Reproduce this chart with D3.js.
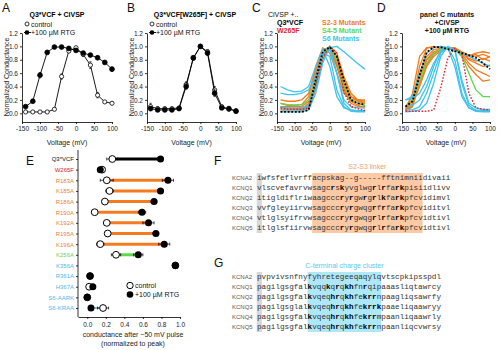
<!DOCTYPE html>
<html><head><meta charset="utf-8">
<script src="https://cdn.jsdelivr.net/npm/d3@7"></script>
<style>
body{margin:0;background:#fff}
svg{font-family:"Liberation Sans",Arial,sans-serif}
.mono{font-family:"Liberation Mono","DejaVu Sans Mono",monospace}
</style>
</head><body><svg id="c" width="500" height="350"></svg>
<script>
// ---------- DATA ----------
const voltTicks = [-150,-100,-50,0,50,100];
const condTicks = [0,0.2,0.4,0.6,0.8,1.0,1.2];
const V = [-140,-120,-100,-80,-60,-40,-20,0,20,40,60,80,100];

// Panel A: Q3*VCF + CiVSP
const aControl = [0.02,0.02,0.02,0.02,0.06,0.55,0.93,0.98,0.88,0.72,0.27,0.17,0.15];
const aRTG     = [0.10,0.18,0.57,0.91,0.99,0.99,0.97,0.94,0.90,0.87,0.83,0.76,0.66];
const aControlErr = [0,0,0,0,0.01,0.04,0.02,0.01,0.03,0.05,0.04,0.02,0.02];
const aRTGErr     = [0.01,0.02,0.04,0.02,0.01,0.01,0.01,0.02,0.02,0.02,0.02,0.02,0.03];
// Panel B: Q3*VCF[W265F] + CiVSP
const bControl = [0.10,0.07,0.07,0.07,0.08,0.43,0.82,1.00,0.92,0.35,0.10,0.06,0.04];
const bRTG     = [0.07,0.05,0.05,0.05,0.07,0.40,0.83,1.00,0.90,0.30,0.08,0.07,0.03];
const bControlErr = [0.05,0.03,0.02,0.02,0.02,0.04,0.02,0,0.03,0.05,0.02,0.02,0.02];
const bRTGErr     = [0.03,0.02,0.02,0.02,0.02,0.04,0.02,0,0.03,0.05,0.02,0.02,0.02];

// Panel C (control, CiVSP) curves
const cQ3 = [0.02,0.02,0.02,0.02,0.05,0.50,0.92,0.99,0.85,0.50,0.20,0.15,0.13];
const cW265F = [0.08,0.06,0.06,0.06,0.08,0.42,0.83,1.00,0.90,0.32,0.10,0.07,0.04];
const cS23 = [
  [0.10,0.08,0.07,0.07,0.10,0.45,0.90,0.98,0.80,0.45,0.20,0.15,0.12],
  [0.05,0.05,0.05,0.06,0.15,0.60,0.95,0.95,0.70,0.35,0.15,0.10,0.10],
  [0.15,0.12,0.12,0.13,0.25,0.70,0.98,0.90,0.60,0.30,0.20,0.20,0.18],
  [0.08,0.07,0.07,0.08,0.12,0.40,0.85,1.00,0.85,0.50,0.25,0.18,0.15],
  [0.20,0.18,0.18,0.20,0.30,0.65,0.95,0.98,0.75,0.40,0.25,0.20,0.20],
  [0.03,0.03,0.03,0.04,0.08,0.35,0.80,1.00,0.90,0.55,0.30,0.20,0.15],
  [0.10,0.10,0.10,0.10,0.18,0.55,0.92,0.97,0.72,0.38,0.18,0.12,0.08]
];
const cS45 = [[0.15,0.13,0.12,0.13,0.20,0.50,0.88,1.00,0.80,0.40,0.20,0.15,0.12]];
const cS6 = [
  [0.40,0.35,0.32,0.33,0.40,0.70,0.95,0.98,1.00,0.92,0.83,0.74,0.66],
  [0.30,0.28,0.28,0.30,0.35,0.55,0.85,0.95,0.60,0.20,0.10,0.08,0.08],
  [0.05,0.05,0.05,0.05,0.10,0.40,0.90,0.85,0.35,0.10,0.03,0.02,0.02],
  [0.02,0.02,0.02,0.02,0.05,0.30,0.75,1.00,0.60,0.15,0.05,0.03,0.03],
  [0.10,0.08,0.08,0.08,0.12,0.45,0.95,0.70,0.25,0.08,0.05,0.04,0.04]
];
// Panel D (+100 uM RTG) curves
const dQ3 = [0.10,0.18,0.57,0.91,0.99,0.99,0.96,0.93,0.90,0.87,0.83,0.75,0.66];
const dW265F = [0.03,0.03,0.03,0.03,0.05,0.38,0.82,0.97,0.88,0.30,0.08,0.06,0.05];
const dS23 = [
  [0.05,0.30,0.85,0.98,0.99,0.99,0.98,0.95,0.90,0.85,0.88,0.80,0.85],
  [0.03,0.10,0.50,0.80,0.92,0.96,0.97,0.95,0.90,0.80,0.75,0.70,0.72],
  [0.08,0.20,0.60,0.85,0.95,0.97,0.98,0.96,0.88,0.75,0.65,0.60,0.55],
  [0.05,0.15,0.45,0.72,0.88,0.95,0.98,0.97,0.90,0.82,0.78,0.82,0.78],
  [0.10,0.25,0.55,0.80,0.90,0.95,0.97,0.96,0.85,0.70,0.58,0.48,0.50],
  [0.04,0.12,0.40,0.70,0.85,0.93,0.97,0.98,0.92,0.87,0.85,0.88,0.84],
  [0.06,0.20,0.70,0.97,1.00,0.98,0.97,0.94,0.90,0.86,0.90,0.92,0.90]
];
const dS45 = [[0.10,0.20,0.50,0.75,0.90,0.96,0.98,0.95,0.85,0.60,0.35,0.25,0.25]];
const dS6 = [
  [0.20,0.25,0.60,0.90,0.98,1.00,0.98,0.95,0.90,0.85,0.80,0.75,0.70],
  [0.20,0.22,0.30,0.50,0.75,0.92,0.98,0.95,0.50,0.15,0.08,0.06,0.06],
  [0.05,0.05,0.10,0.30,0.60,0.90,0.98,0.80,0.30,0.08,0.03,0.02,0.02],
  [0.02,0.03,0.05,0.15,0.45,0.85,1.00,0.95,0.45,0.12,0.04,0.03,0.03],
  [0.10,0.12,0.20,0.40,0.70,0.95,0.98,0.70,0.25,0.08,0.05,0.04,0.04]
];

// Panel E
const eLabels = ["Q3*VCF","W265F","R183A","K185A","R186A","R190A","K192A","R195A","K196A","K256A","K356A","R361A","H367A","S6-AARK","S6-KRAA"];
const eGroups = ["q3","w","s23","s23","s23","s23","s23","s23","s23","s45","s6","s6","s6","s6","s6"];
const eControl    = [0.27,0.16,0.21,0.24,0.19,0.08,0.21,0.22,0.14,0.31,0.95,0.03,0.02,0.00,0.17];
const eRTG        = [0.79,0.14,0.87,0.79,0.72,0.59,0.66,0.74,0.83,0.55,0.95,0.03,0.06,0.00,0.04];
const eControlErr = [0.06,0.02,0.07,0.04,0.03,0.03,0.03,0.03,0.04,0.05,0,0.01,0.01,0,0.06];
const eRTGErr     = [0.03,0.02,0.06,0.03,0.03,0.04,0.06,0.03,0.06,0.05,0,0.01,0.01,0,0.02];
const eTicks = [0,0.2,0.4,0.6,0.8,1.0];

// Panels F and G: alignments
const seqNames = ["KCNA2","KCNQ1","KCNQ2","KCNQ3","KCNQ4","KCNQ5"];
const fSeqs = [
  ["iwfsfeflvrff","acpskag--g-----fftnimnii","divaii"],
  ["vlscvefavrvw","sagcrskyvglwgrlrfarkpisi","idlivv"],
  ["itigldiflriw","aagcccryrgwrgrlkfarkpfcv","idimvl"],
  ["vvfgleyiirvw","sagcccryrgwqgrfrfarkpfcv","iditvl"],
  ["vtlglsyifrvw","sagcccryrgwqgrlrfarkpfcv","idtivl"],
  ["itlglsfiirvw","sagcccryrgwqgrlrfarkpfcv","idtivl"]
];
const gSeqs = [
  ["pvpvivsnfny","fyhretegeeqaqylq","vtscpkipsspdl"],
  ["pagilgsgfal","kvqqkqrqkhfnrqip","aaasliqtawrcy"],
  ["pagilgsgfal","kvqeqhrqkhfekrrn","paagliqsawrfy"],
  ["pagilgsglal","kvqeqhrqkhfekrrk","paaeliqaawryy"],
  ["pagilgsgfal","kvqeqhrqkhfekrrm","paanliqaawrly"],
  ["pagilgsgfal","kvqeqhrqkhfekrrn","paanliqcvwrsy"]
];

// ---------- STYLE ----------
const COL = {q3:"#000", w:"#e3262f", s23:"#f47b20", s45:"#5ed84a", s6:"#3ec3ef"};
const LBL = {q3:"#111", w:"#d9262e", s23:"#e8843c", s45:"#6cd45c", s6:"#4bb9e6"};
const svg = d3.select("#c");

function styleAxis(g, fs){
  g.selectAll("path,line").attr("stroke","#000").attr("stroke-width",0.8);
  g.selectAll("text").attr("font-size",fs).attr("fill","#222");
}

function voltPanel(x0, x1){
  const x = d3.scaleLinear().domain([-150,100]).range([x0,x1]);
  const y = d3.scaleLinear().domain([-0.13,1.2]).range([122,33]);
  const g = svg.append("g");
  const ax = g.append("g").attr("transform","translate(0,122)")
    .call(d3.axisBottom(x).tickValues(voltTicks).tickFormat(d=>String(d)).tickSize(2).tickSizeOuter(0).tickPadding(2));
  styleAxis(ax,6.5);
  const ay = g.append("g").attr("transform",`translate(${x0},0)`)
    .call(d3.axisLeft(y).tickValues(condTicks).tickFormat(d3.format(".1f")).tickSize(2).tickSizeOuter(0).tickPadding(2));
  styleAxis(ay,6.5);
  g.append("text").attr("x",(x0+x1)/2).attr("y",145).attr("text-anchor","middle")
    .attr("font-size",7).attr("fill","#222").text("Voltage (mV)");
  g.append("text").attr("transform",`translate(${x0-13},77) rotate(-90)`).attr("text-anchor","middle")
    .attr("font-size",7).attr("fill","#222").text("Normalized Conductance");
  return {x,y,g};
}

function letter(t,x,y){
  svg.append("text").attr("x",x).attr("y",y).attr("font-size",12).attr("fill","#111").text(t);
}

function markerSeries(p, vals, errs, filled){
  const line = d3.line().x((d,i)=>p.x(V[i])).y(d=>p.y(d));
  p.g.append("path").datum(vals).attr("d",line).attr("fill","none").attr("stroke","#000").attr("stroke-width",0.9);
  p.g.selectAll(null).data(vals).enter().append("path")
    .attr("d",(d,i)=>{const xx=p.x(V[i]), e=errs[i]; if(!e) return null;
      const y1=p.y(d+e), y2=p.y(d-e);
      return `M${xx},${y1}V${y2}M${xx-1.2},${y1}H${xx+1.2}M${xx-1.2},${y2}H${xx+1.2}`;})
    .attr("stroke","#000").attr("stroke-width",0.6).attr("fill","none");
  p.g.selectAll(null).data(vals).enter().append("circle")
    .attr("cx",(d,i)=>p.x(V[i])).attr("cy",d=>p.y(d)).attr("r",filled?2.4:2.1)
    .attr("fill",filled?"#000":"#fff").attr("stroke","#000").attr("stroke-width",0.8);
}

function legendAB(x0){
  const g = svg.append("g");
  g.append("circle").attr("cx",x0+5).attr("cy",24).attr("r",2).attr("fill","#fff").attr("stroke","#000").attr("stroke-width",0.8);
  g.append("text").attr("x",x0+9).attr("y",26.5).attr("font-size",7).attr("fill","#111").text("control");
  g.append("line").attr("x1",x0+2).attr("x2",x0+9).attr("y1",32.5).attr("y2",32.5).attr("stroke","#000").attr("stroke-width",0.9);
  g.append("circle").attr("cx",x0+5).attr("cy",32.5).attr("r",2.3).attr("fill","#000");
  g.append("text").attr("x",x0+9).attr("y",35).attr("font-size",7).attr("fill","#111").text("+100 µM RTG");
}

function curves(p, arr, color, width, dash){
  const line = d3.line().x((d,i)=>p.x(V[i])).y(d=>p.y(d));
  p.g.selectAll(null).data(arr).enter().append("path").attr("d",line)
    .attr("fill","none").attr("stroke",color).attr("stroke-width",width)
    .attr("stroke-dasharray",dash||null).attr("stroke-linejoin","round");
}

// ---------- PANEL A ----------
letter("A",2,12);
svg.append("text").attr("x",57).attr("y",17).attr("text-anchor","middle").attr("font-size",7).attr("font-weight","bold").text("Q3*VCF + CiVSP");
const pA = voltPanel(22,112);
legendAB(22);
markerSeries(pA, aControl, aControlErr, false);
markerSeries(pA, aRTG, aRTGErr, true);

// ---------- PANEL B ----------
letter("B",127,12);
svg.append("text").attr("x",195).attr("y",17).attr("text-anchor","middle").attr("font-size",7).attr("font-weight","bold").text("Q3*VCF[W265F] + CiVSP");
const pB = voltPanel(147,236);
legendAB(147);
markerSeries(pB, bControl, bControlErr, false);
markerSeries(pB, bRTG, bRTGErr, true);

// ---------- PANEL C ----------
letter("C",252,12);
const pC = voltPanel(277,365);
curves(pC, cS23, COL.s23, 1.3);
curves(pC, cS45, COL.s45, 1.3);
curves(pC, cS6, COL.s6, 1.3);
curves(pC, [cW265F], COL.w, 1.4, "1.6,1.6");
curves(pC, [cQ3], "#000", 1.8, "1.8,1.8");
const cl = svg.append("g").attr("font-size",7).attr("font-weight","bold");
cl.append("text").attr("x",268).attr("y",17).attr("font-weight","normal").attr("fill","#111").text("CiVSP +..");
cl.append("text").attr("x",277).attr("y",25).attr("fill",COL.q3).text("Q3*VCF");
cl.append("text").attr("x",277).attr("y",33).attr("fill",COL.w).text("W265F");
cl.append("text").attr("x",322).attr("y",25).attr("fill",COL.s23).text("S2-3 Mutants");
cl.append("text").attr("x",322).attr("y",33).attr("fill",COL.s45).text("S4-5 Mutant");
cl.append("text").attr("x",322).attr("y",41).attr("fill",COL.s6).text("S6 Mutants");

// ---------- PANEL D ----------
letter("D",377,12);
const pD = voltPanel(402,490);
curves(pD, dS23, COL.s23, 1.3);
curves(pD, dS45, COL.s45, 1.3);
curves(pD, dS6, COL.s6, 1.3);
curves(pD, [dW265F], COL.w, 1.4, "1.6,1.6");
curves(pD, [dQ3], "#000", 1.8, "1.8,1.8");
const dl = svg.append("g").attr("font-size",7).attr("font-weight","bold").attr("text-anchor","middle").attr("fill","#111");
dl.append("text").attr("x",447).attr("y",17).text("panel C mutants");
dl.append("text").attr("x",447).attr("y",25).text("+CiVSP");
dl.append("text").attr("x",447).attr("y",33).text("+100 µM RTG");

// ---------- PANEL E ----------
letter("E",26,165);
const ex = d3.scaleLinear().domain([-0.1,1.0]).range([78,180]);
const ey = d3.scalePoint().domain(eLabels).range([159,308]);
const eg = svg.append("g");
const eax = eg.append("g").attr("transform","translate(0,317)")
  .call(d3.axisBottom(ex).tickValues(eTicks).tickFormat(d3.format(".1f")).tickSize(2).tickSizeOuter(0).tickPadding(3));
styleAxis(eax,6.5);
const eay = eg.append("g").attr("transform","translate(78,0)")
  .call(d3.axisLeft(ey).tickSize(2).tickSizeOuter(0).tickPadding(2));
styleAxis(eay,6);
eay.select(".domain").attr("d","M-0,150V317");
eay.selectAll(".tick text").attr("fill",(d,i)=>LBL[eGroups[i]]);
eg.append("text").attr("x",133).attr("y",337).attr("text-anchor","middle").attr("font-size",7).attr("fill","#222").text("conductance after \u221250 mV pulse");
eg.append("text").attr("x",133).attr("y",346).attr("text-anchor","middle").attr("font-size",7).attr("fill","#222").text("(normalized to peak)");
// connecting lines
eLabels.forEach((lab,i)=>{
  const grp = eGroups[i];
  if(grp==="w") return;
  const thick = (grp==="s6") ? 1.2 : 3;
  const col = grp==="s6" ? "#3a8fd0" : COL[grp];
  eg.append("line").attr("x1",ex(eControl[i])).attr("x2",ex(eRTG[i]))
    .attr("y1",ey(lab)).attr("y2",ey(lab)).attr("stroke",col).attr("stroke-width",thick);
});
function eErr(vals, errs){
  eLabels.forEach((lab,i)=>{
    if(!errs[i]) return;
    const yy=ey(lab), a=ex(vals[i]-errs[i]), b=ex(vals[i]+errs[i]);
    eg.append("path").attr("d",`M${a},${yy}H${b}M${a},${yy-1.5}V${yy+1.5}M${b},${yy-1.5}V${yy+1.5}`)
      .attr("stroke","#000").attr("stroke-width",0.7).attr("fill","none");
  });
}
eErr(eControl, eControlErr);
eErr(eRTG, eRTGErr);
eg.selectAll(null).data(eLabels).enter().append("circle")
  .attr("cx",(d,i)=>ex(eControl[i])).attr("cy",d=>ey(d)).attr("r",3.4)
  .attr("fill","#fff").attr("stroke","#000").attr("stroke-width",1);
eg.selectAll(null).data(eLabels).enter().append("circle")
  .attr("cx",(d,i)=>ex(eRTG[i])).attr("cy",d=>ey(d)).attr("r",3.5).attr("fill","#000");
// legend
eg.append("circle").attr("cx",130).attr("cy",285.5).attr("r",3.2).attr("fill","#fff").attr("stroke","#000").attr("stroke-width",1);
eg.append("text").attr("x",135).attr("y",288).attr("font-size",7).attr("fill","#111").text("control");
eg.append("circle").attr("cx",130).attr("cy",294.5).attr("r",3.3).attr("fill","#000");
eg.append("text").attr("x",135).attr("y",297).attr("font-size",7).attr("fill","#111").text("+100 µM RTG");

// ---------- PANELS F & G ----------
const CW = 4.6;
const colX = d3.scaleLinear().domain([0,1]).range([257,257+CW]);
function alignment(seqs, y0, boxColor, title, titleColor, boldRows){
  const g = svg.append("g");
  const pre = seqs[0][0].length, mid = seqs[0][1].length;
  const rowY = d3.scaleLinear().domain([0,1]).range([y0, y0+10]);
  g.append("rect").attr("x",colX(pre)).attr("y",rowY(0)-5).attr("width",colX(pre+mid)-colX(pre))
    .attr("height",rowY(seqs.length-1)-rowY(0)+10).attr("fill",boxColor);
  g.append("rect").attr("x",colX(0)-0.3).attr("y",rowY(0)-5).attr("width",CW+0.6)
    .attr("height",rowY(seqs.length-1)-rowY(0)+10).attr("fill","#d8d8d8");
  g.append("text").attr("x",(colX(pre)+colX(pre+mid))/2).attr("y",rowY(0)-9).attr("text-anchor","middle")
    .attr("font-size",7).attr("fill",titleColor).text(title);
  seqs.forEach((s,r)=>{
    g.append("text").attr("x",232).attr("y",rowY(r)+2.2).attr("font-size",6).attr("fill","#555").text(seqNames[r]);
    const t = g.append("text").attr("class","mono").attr("x",colX(0)).attr("y",rowY(r)+2.4)
      .attr("font-size",CW/0.6).attr("fill","#333").attr("xml:space","preserve");
    t.append("tspan").text(s[0]);
    const parts = s[1].split("");
    parts.forEach(ch=>{
      const b = r>0 && boldRows.includes(ch);
      t.append("tspan").attr("font-weight",b?"bold":null).attr("fill",b?"#000":null).text(ch);
    });
    t.append("tspan").text(s[2]);
  });
}
letter("F",214,165);
alignment(fSeqs, 178, "#fcc9a5", "S2-S3 linker", "#f0a270", ["r","k"]);
letter("G",214,267);
alignment(gSeqs, 277, "#aee7f8", "C-terminal charge cluster", "#62c6ee", ["r","k","h"]);
</script>
</body></html>
